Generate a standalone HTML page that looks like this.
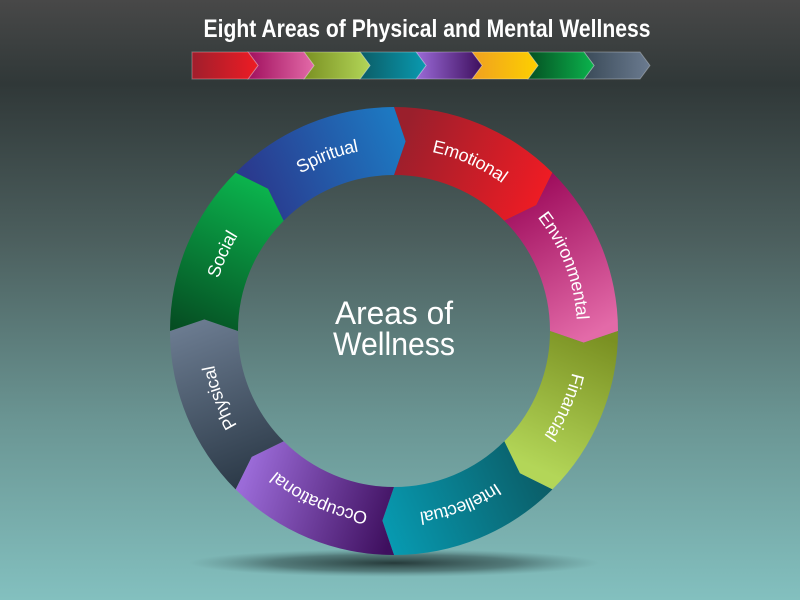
<!DOCTYPE html>
<html><head><meta charset="utf-8"><style>
html,body{margin:0;padding:0;width:800px;height:600px;overflow:hidden}
body{background:linear-gradient(#484848 0%,#303838 14%,#4c5f5e 40%,#6a9593 70%,#83c0bf 100%)}
svg{display:block}
</style></head><body>
<svg id="s" width="800" height="600" xmlns="http://www.w3.org/2000/svg">
<defs>
<radialGradient id="sh" cx="0.5" cy="0.5" r="0.5"><stop offset="0" stop-color="#1c2c2c" stop-opacity="0.9"/><stop offset="0.6" stop-color="#2a4040" stop-opacity="0.5"/><stop offset="1" stop-color="#4a7070" stop-opacity="0"/></radialGradient>
</defs>
<ellipse cx="394" cy="563" rx="205" ry="14" fill="url(#sh)"/>
<text x="427" y="37" fill="#fff" font-family="Liberation Sans, sans-serif" font-weight="bold" font-size="25" text-anchor="middle" textLength="447" lengthAdjust="spacingAndGlyphs">Eight Areas of Physical and Mental Wellness</text>
<g id="bar"></g>
<g id="ring"></g>
<text x="394" y="324" fill="#fff" font-family="Liberation Sans, sans-serif" font-size="32" text-anchor="middle" textLength="118" lengthAdjust="spacingAndGlyphs">Areas of</text>
<text x="394" y="355" fill="#fff" font-family="Liberation Sans, sans-serif" font-size="32" text-anchor="middle" textLength="122" lengthAdjust="spacingAndGlyphs">Wellness</text>
</svg>
<script>
var NS="http://www.w3.org/2000/svg",svg=document.getElementById('s'),defs=svg.querySelector('defs');
function el(t,a,p){var e=document.createElementNS(NS,t);for(var k in a)e.setAttribute(k,a[k]);(p||svg).appendChild(e);return e;}
function grad(id,x1,y1,x2,y2,c1,c2){var g=el('linearGradient',{id:id,gradientUnits:'userSpaceOnUse',x1:x1,y1:y1,x2:x2,y2:y2},defs);el('stop',{offset:0,'stop-color':c1},g);el('stop',{offset:1,'stop-color':c2},g);}
var bc=[['#a01e2c','#ee1c24'],['#a0105e','#e36aa8'],['#7a9022','#b3d658'],['#0b5c66','#0a9ab0'],['#9b6bd8','#3e0f5e'],['#f0a020','#fdd000'],['#055022','#0bb34d'],['#3a4a58','#6b7b90']];
var bar=document.getElementById('bar');
for(var i=7;i>=0;i--){var x=192+56*i;grad('b'+i,x,0,x+66,0,bc[i][0],bc[i][1]);
var d='M'+x+',52 L'+(x+56)+',52 L'+(x+66)+',65.5 L'+(x+56)+',79 L'+x+',79 '+(i>0?'L'+(x+10)+',65.5 ':'')+'Z';
el('path',{d:d,fill:'url(#b'+i+')',stroke:'rgba(255,255,255,0.3)','stroke-width':1},bar);}
var cx=394,cy=331,R=224,r=156,rm=190,dl=3.5;
function P(rad,a){a=a*Math.PI/180;return (cx+rad*Math.sin(a)).toFixed(2)+','+(cy-rad*Math.cos(a)).toFixed(2);}
var segs=[
['Emotional',400,140,540,200,'#9a1f2c','#ee1c24'],
['Environmental',520,190,600,330,'#9e0c5c','#e36aa8'],
['Financial',600,335,540,470,'#7a9022','#b3d658'],
['Intellectual',545,470,385,540,'#0b5c66','#079bb2'],
['Occupational',390,540,240,490,'#3e0f5e','#9b6bd8'],
['Physical',235,490,175,330,'#2b3947','#6b7b90'],
['Social',180,330,250,180,'#054d22','#0bb34d'],
['Spiritual',250,180,395,120,'#2a3a8e','#1d79c2']];
var ring=document.getElementById('ring');
var tr=183;
el('path',{id:'cp',d:'M'+cx+','+(cy-tr)+' A'+tr+','+tr+' 0 1 1 '+cx+','+(cy+tr)+' A'+tr+','+tr+' 0 1 1 '+cx+','+(cy-tr),fill:'none'},defs);
var C=2*Math.PI*tr;
segs.forEach(function(s,k){var a0=45*k,a1=a0+45;grad('g'+k,s[1],s[2],s[3],s[4],s[5],s[6]);
var d='M'+P(R,a0)+' A'+R+','+R+' 0 0 1 '+P(R,a1)+' L'+P(rm,a1+dl)+' L'+P(r,a1)+' A'+r+','+r+' 0 0 0 '+P(r,a0)+' L'+P(rm,a0+dl)+' Z';
el('path',{d:d,fill:'url(#g'+k+')'},ring);});
segs.forEach(function(s,k){var t=el('text',{fill:'#fff','font-family':'Liberation Sans, sans-serif','font-size':18,'text-anchor':'middle','letter-spacing':'-0.3'},ring);
var tp=el('textPath',{href:'#cp',startOffset:(C*(45*k+24)/360).toFixed(1)},t);tp.setAttributeNS('http://www.w3.org/1999/xlink','xlink:href','#cp');tp.textContent=s[0];});
</script>
</body></html>
